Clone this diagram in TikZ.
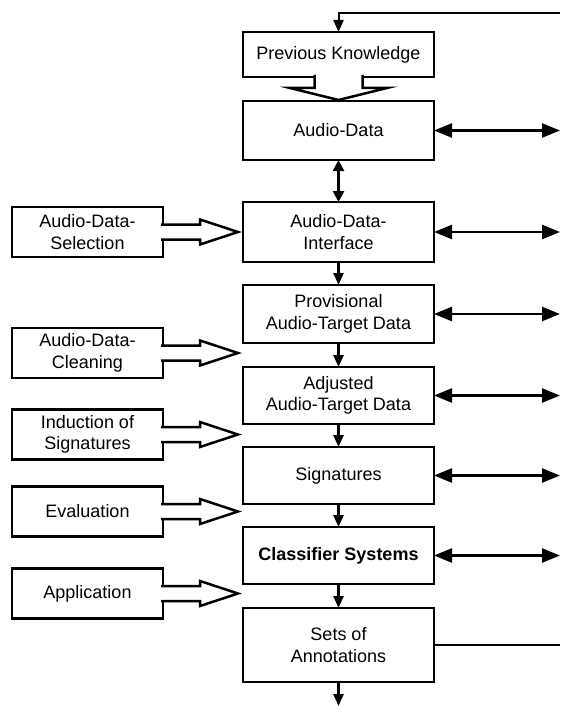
\documentclass[tikz,border=0pt]{standalone}
\usepackage{fontspec}
\setmainfont{Liberation Sans}
\usetikzlibrary{arrows.meta}

\tikzset{
  mainbox/.style={draw, line width=2.5pt, outer sep=0pt, minimum width=191pt, align=center, font=\fontsize{18}{21.6}\selectfont},
  sidebox/.style={draw, line width=2.5pt, outer sep=0pt, minimum width=151pt, minimum height=50pt, align=center, font=\fontsize{18}{21.6}\selectfont},
  hollow/.style={draw, fill=white, line width=2.5pt, line join=miter},
  dblarrow/.style={line width=2.5pt, {Triangle[length=18pt,width=14pt]}-{Triangle[length=18pt,width=14pt]}},
  downarrow/.style={line width=2.5pt, -{Triangle[length=12pt,width=10pt]}},
  thinline/.style={line width=2pt}
}

\begin{document}
\begin{tikzpicture}[x=1pt, y=-1pt]
\useasboundingbox (0,0) rectangle (560,706);
\coordinate (redge) at (560,0);
\coordinate (fbtop) at (560,13);
\coordinate (fbbot) at (560,646);
\coordinate (bot) at (338.5,706);

% main column
\node[mainbox, minimum height=45pt] (pk) at (338.5,54.5) {Previous Knowledge};
\node[mainbox, minimum height=59pt] (ad) at (338.5,130.5) {Audio-Data};
\node[mainbox, minimum height=60pt] (adi) at (338.5,232) {Audio-Data-\\Interface};
\node[mainbox, minimum height=58pt] (prov) at (338.5,314) {Provisional\\Audio-Target Data};
\node[mainbox, minimum height=57pt] (adj) at (338.5,395.5) {Adjusted\\Audio-Target Data};
\node[mainbox, minimum height=57pt] (sig) at (338.5,475.5) {Signatures};
\node[mainbox, minimum height=57pt] (cls) at (338.5,555.5) {\bfseries Classifier Systems};
\node[mainbox, minimum height=74pt] (sets) at (338.5,645) {Sets of\\Annotations};

% side column
\node[sidebox] (sel) at (87.5,232) {Audio-Data-\\Selection};
\node[sidebox] (clean) at (87.5,353) {Audio-Data-\\Cleaning};
\node[sidebox] (induc) at (87.5,434.5) {Induction of\\Signatures};
\node[sidebox] (eval) at (87.5,511.5) {Evaluation};
\node[sidebox] (appl) at (87.5,593.5) {Application};

% hollow arrows
\path[hollow] (pk.south) ++(-24,-2) -- ++(0,13) -- ++(-24.5,0) -- ++(48.5,12) -- ++(48.5,-12) -- ++(-24.5,0) -- ++(0,-13);
\path[hollow] (sel.east) ++(-2,-7.5) -- ++(39,0) -- ++(0,-5) -- ++(38,12.5) -- ++(-38,12.5) -- ++(0,-5) -- ++(-39,0);
\path[hollow] (clean.east) ++(-2,-7.5) -- ++(39,0) -- ++(0,-5) -- ++(38,12.5) -- ++(-38,12.5) -- ++(0,-5) -- ++(-39,0);
\path[hollow] (induc.east) ++(-2,-7.5) -- ++(39,0) -- ++(0,-5) -- ++(38,12.5) -- ++(-38,12.5) -- ++(0,-5) -- ++(-39,0);
\path[hollow] (eval.east) ++(-2,-7.5) -- ++(39,0) -- ++(0,-5) -- ++(38,12.5) -- ++(-38,12.5) -- ++(0,-5) -- ++(-39,0);
\path[hollow] (appl.east) ++(-2,-7.5) -- ++(39,0) -- ++(0,-5) -- ++(38,12.5) -- ++(-38,12.5) -- ++(0,-5) -- ++(-39,0);

% vertical flow
\draw[line width=2.5pt, {Triangle[length=11pt,width=11pt]}-{Triangle[length=11pt,width=11pt]}] (ad.south) -- (adi.north);
\draw[downarrow] (adi.south) -- (prov.north);
\draw[downarrow] (prov.south) -- (adj.north);
\draw[downarrow] (adj.south) -- (sig.north);
\draw[downarrow] (sig.south) -- (cls.north);
\draw[downarrow] (cls.south) -- (sets.north);
\draw[downarrow] (sets.south) -- (bot);

% right side
\draw[dblarrow] (ad.east) -- (ad.east -| redge);
\draw[dblarrow] (adi.east) -- (adi.east -| redge);
\draw[dblarrow] (prov.east) -- (prov.east -| redge);
\draw[dblarrow] (adj.east) -- (adj.east -| redge);
\draw[dblarrow] (sig.east) -- (sig.east -| redge);
\draw[dblarrow] (cls.east) -- (cls.east -| redge);
\draw[thinline] (sets.east) -- (sets.east -| fbbot);
\draw[thinline, -{Triangle[length=12pt,width=10pt]}] (fbtop) -| (pk.north);
\end{tikzpicture}
\end{document}
